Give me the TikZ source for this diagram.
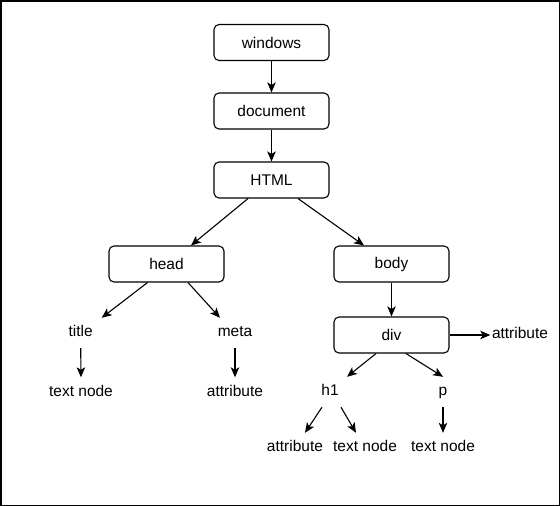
\documentclass[tikz,border=0pt]{standalone}
\usepackage{fontspec}
\setmainfont{Liberation Sans}
\usetikzlibrary{arrows.meta}
\tikzset{
  domnode/.style={draw,line width=1.1pt,rounded corners=5pt,
    minimum width=115pt,minimum height=36pt,inner sep=0pt},
  domlbl/.style={minimum height=30pt,inner ysep=0pt,inner xsep=1.5pt,
    text height=11pt,text depth=3.5pt},
  domarr/.style={-{Stealth[length=10pt,width=8.5pt,inset=2.5pt]},line width=1.1pt}
}
\begin{document}
\begin{tikzpicture}[x=1pt,y=-1pt,every node/.style={font=\fontsize{15.5}{18}\selectfont}]
  \useasboundingbox (0,0) rectangle (560,506);
  \draw[line width=1.5pt] (0.75,0.75) rectangle (559.25,505.25);

  % boxes
  \node[domnode] (win)  at (271.5,42.5) {windows};
  \node[domnode] (doc)  at (271.5,111)  {document};
  \node[domnode] (html) at (271.5,180)  {HTML};
  \node[domnode] (head) at (166.5,264)  {head};
  \node[domnode] (body) at (391.5,264)  {body};
  \node[domnode] (div)  at (391.5,335)  {div};

  % plain labels
  \node[domlbl] (title) at (80.7,333)  {title};
  \node[domlbl] (meta)  at (235,333)   {meta};
  \node[domlbl] (divattr) at (520,335) {attribute};
  \node[domlbl] (titletext) at (81,392.5) {text node};
  \node[domlbl] (metaattr)  at (235,392.5) {attribute};
  \node[domlbl] (hone) at (330,392) {h1};
  \node[domlbl] (para) at (443,392) {p};
  \node[domlbl] (honeattr) at (295,448) {attribute};
  \node[domlbl] (honetext) at (365,448) {text node};
  \node[domlbl] (paratext) at (443,448) {text node};

  % connectors
  \draw[domarr] (win) -- (doc);
  \draw[domarr] (doc) -- (html);
  \draw[domarr] ([xshift=-23.5pt]html.south) -- ([xshift=24.5pt]head.north);
  \draw[domarr] ([xshift=26.5pt]html.south) -- ([xshift=-27.5pt]body.north);
  \draw[domarr] ([xshift=-19pt]head.south) -- ([xshift=21pt]title.north);
  \draw[domarr] ([xshift=21.5pt]head.south) -- ([xshift=-15pt]meta.north);
  \draw[domarr] (title.south) -- (titletext.north);
  \draw[domarr] (meta.south) -- (metaattr.north);
  \draw[domarr] (body) -- (div);
  \draw[domarr] (div.east) -- (divattr.west);
  \draw[domarr] ([xshift=-15.5pt]div.south) -- ([xshift=17pt]hone.north);
  \draw[domarr] ([xshift=14.5pt]div.south) -- (para.north);
  \draw[domarr] ([xshift=-8pt]hone.south) -- ([xshift=10pt]honeattr.north);
  \draw[domarr] ([xshift=11pt]hone.south) -- ([xshift=-9pt]honetext.north);
  \draw[domarr] (para.south) -- (paratext.north);
\end{tikzpicture}
\end{document}
